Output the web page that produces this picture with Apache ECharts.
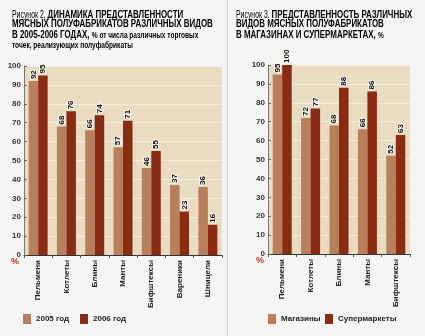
<!DOCTYPE html>
<html>
<head>
<meta charset="utf-8">
<script src="https://cdn.jsdelivr.net/npm/echarts@6/dist/echarts.min.js"></script>
<style>
html,body{margin:0;padding:0;background:#f5f5f3;}
#c{width:425px;height:336px;}
</style>
</head>
<body>
<div id="c"></div>
<script>
// Figure 2
const cats2 = ['Пельмени','Котлеты','Блины','Манты','Бифштексы','Вареники','Шницели'];
const y2005 = [92, 68, 66, 57, 46, 37, 36];
const y2006 = [95, 76, 74, 71, 55, 23, 16];
// Figure 3
const cats3 = ['Пельмени','Котлеты','Блины','Манты','Бифштексы'];
const shops = [95, 72, 68, 66, 52];
const supermarkets = [100, 77, 88, 86, 63];

const FONT = '"Liberation Sans",Arial,sans-serif';
const LIGHT = '#b97f5c';
const DARK = '#8a2b14';
const TITLE = '#b4501c';

function yAxis(gridIndex){
  return {
    type:'value', gridIndex, min:0, max:100, interval:10,
    axisLine:{show:true, lineStyle:{color:'#777', width:1}},
    axisTick:{show:true, length:3, inside:true, lineStyle:{color:'#666'}},
    axisLabel:{fontFamily:FONT, fontSize:8, fontWeight:'bold', color:'#333', margin:3},
    splitLine:{show:true, lineStyle:{color:'#f6efe0', width:1}}
  };
}
function xAxis(gridIndex, data){
  return {
    type:'category', gridIndex, data,
    axisLine:{show:true, lineStyle:{color:'#333', width:1}},
    axisTick:{show:true, length:3, lineStyle:{color:'#555'}},
    axisLabel:{rotate:90, fontFamily:FONT, fontSize:8, fontWeight:'bold', color:'#222', margin:5, interval:0}
  };
}
function barLabel(){
  return {show:true, position:'top', rotate:90, align:'left', verticalAlign:'middle', distance:2,
    fontFamily:FONT, fontSize:8, fontWeight:'bold', color:'#111',
    textBorderColor:'#fbf7ee', textBorderWidth:2};
}
function leg(name, left){
  return {data:[name], left, top:314, padding:0, itemWidth:8, itemHeight:10, itemGap:0, icon:'rect',
    textStyle:{fontFamily:FONT, fontSize:8, fontWeight:'bold', color:'#222'}};
}
const richStyles = {
  s:{fontFamily:FONT, fontSize:10, color:'#666', lineHeight:9.5},
  b:{fontFamily:FONT, fontSize:11.5, fontWeight:'bold', color:TITLE, lineHeight:9.5},
  n:{fontFamily:FONT, fontSize:9.5, fontWeight:'bold', color:'#333', lineHeight:9.5}
};

const chart = echarts.init(document.getElementById('c'), null, {renderer:'canvas'});
chart.setOption({
  animation:false,
  backgroundColor:'#f5f5f3',
  grid:[
    {left:24, top:66, width:198, height:189, backgroundColor:'#eadcc1', show:true, borderWidth:0, outerBoundsMode:'none'},
    {left:268, top:65, width:142, height:189, backgroundColor:'#eadcc1', show:true, borderWidth:0, outerBoundsMode:'none'}
  ],
  xAxis:[xAxis(0,cats2), xAxis(1,cats3)],
  yAxis:[yAxis(0), yAxis(1)],
  legend:[leg('2005 год',23), leg('2006 год',80), leg('Магазины',268), leg('Супермаркеты',325)],
  series:[
    {name:'2005 год', type:'bar', xAxisIndex:0, yAxisIndex:0, data:y2005, barWidth:9.5, barGap:'0%', itemStyle:{color:LIGHT}, label:barLabel()},
    {name:'2006 год', type:'bar', xAxisIndex:0, yAxisIndex:0, data:y2006, barWidth:9.5, barGap:'0%', itemStyle:{color:DARK}, label:barLabel()},
    {name:'Магазины', type:'bar', xAxisIndex:1, yAxisIndex:1, data:shops, barWidth:9.5, barGap:'0%', itemStyle:{color:LIGHT}, label:barLabel()},
    {name:'Супермаркеты', type:'bar', xAxisIndex:1, yAxisIndex:1, data:supermarkets, barWidth:9.5, barGap:'0%', itemStyle:{color:DARK}, label:barLabel()}
  ],
  graphic:[
    {type:'line', shape:{x1:227.5,y1:0,x2:227.5,y2:336}, style:{stroke:'#d8d8d8', lineWidth:1}},
    {type:'text', x:11, y:257, style:{text:'%', fill:'#c0392b', font:'bold 9px '+FONT}},
    {type:'text', x:256, y:256, style:{text:'%', fill:'#c0392b', font:'bold 9px '+FONT}},
    {type:'text', x:12, y:10, scaleX:0.69, style:{
      text:'{s|Рисунок 2. }{b|ДИНАМИКА ПРЕДСТАВЛЕННОСТИ}\n{b|МЯСНЫХ ПОЛУФАБРИКАТОВ РАЗЛИЧНЫХ ВИДОВ}\n{b|В 2005-2006 ГОДАХ,} {n|% от числа различных торговых}\n{n|точек, реализующих полуфабрикаты}',
      rich:richStyles
    }},
    {type:'text', x:236, y:10, scaleX:0.69, style:{
      text:'{s|Рисунок 3. }{b|ПРЕДСТАВЛЕННОСТЬ РАЗЛИЧНЫХ}\n{b|ВИДОВ МЯСНЫХ ПОЛУФАБРИКАТОВ}\n{b|В МАГАЗИНАХ И СУПЕРМАРКЕТАХ,} {n|%}',
      rich:richStyles
    }}
  ]
});
</script>
</body>
</html>
